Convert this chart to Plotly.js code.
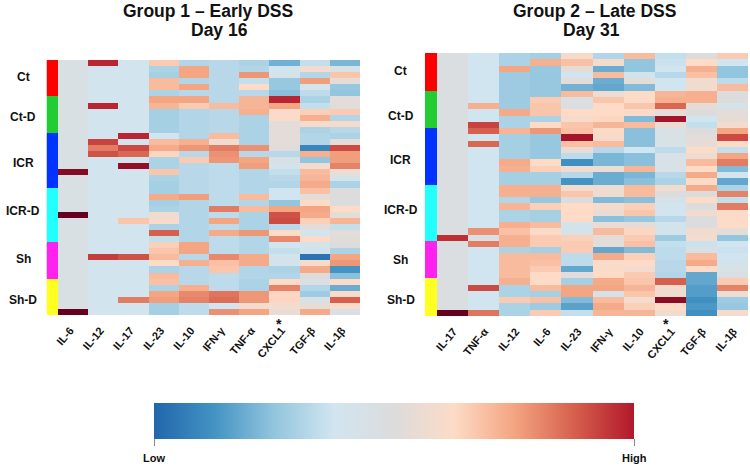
<!DOCTYPE html>
<html><head><meta charset="utf-8">
<script src="https://cdn.plot.ly/plotly-3.0.1.min.js"></script>
<style>html,body{margin:0;padding:0;background:#fff}#c{width:750px;height:469px}</style>
</head><body><div id="c"></div>
<script>
// Rows: Ct 6, Ct-D 6, ICR 9, ICR-D 9, Sh 6, Sh-D 6
const groupNames=['Ct','Ct-D','ICR','ICR-D','Sh','Sh-D'];
const groupByRow=[0,0,0,0,0,0, 1,1,1,1,1,1, 2,2,2,2,2,2,2,2,2, 3,3,3,3,3,3,3,3,3, 4,4,4,4,4,4, 5,5,5,5,5,5];
const groupColors=['#ff0000','#22cc33','#0033ff','#22ffff','#ff22ee','#ffff22'];
const labelRows1=[2.3,8.9,16.5,24.4,32.3,39];
const labelRows2=[2.3,9.6,16.6,24.5,32.5,38.9];

const columns1=['IL-6','IL-12','IL-17','IL-23','IL-10','IFN-γ','TNF-α','CXCL1','TGF-β','IL-1β'];
const columns2=['IL-17','TNF-α','IL-12','IL-6','IL-23','IFN-γ','IL-10','CXCL1','TGF-β','IL-1β'];

const g1IL6=[-.4,-.4,-.4,-.4,-.4,-.4, -.4,-.4,-.4,-.4,-.4,-.4, -.4,-.4,-.4,-.4,-.4,-.4,4.6,-.4,-.4, -.4,-.4,-.4,-.4,5,-.4,-.4,-.4,-.4, -.4,-.4,-.4,-.4,-.4,-.4, -.4,-.4,-.4,-.4,-.4,5];
const g1IL12=[3.8,-.9,-.9,-.9,-.9,-.9, -.9,3.8,-.9,-.9,-.9,-.9, -.9,3.4,2.6,3.2,-.9,-.9,-.9,-.9,-.9, -.9,-.9,-.9,-.9,-.9,-.9,-.9,-.9,-.9, -.9,-.9,3.5,-.9,-.9,-.9, -.9,-.9,-.9,-.9,-.9,-.9];
const g1IL17=[-.9,-.9,-.9,-.9,-.9,-.9, -.9,-.9,-.9,-.9,-.9,-.9, 3.8,-.9,3.3,2.9,-.9,4.4,-.9,-.9,-.9, -.9,-.9,-.9,-.9,-.9,1.4,-.9,-.9,-.9, -.9,-.9,3.2,-.9,-.9,-.9, -.9,-.9,-.9,2.6,-.9,-.9];
const g1IL23=[1.3,-1.6,-1.7,1.6,1.6,-1.6, 2,1.7,-1.7,-1.7,-1.7,-1.7, -1,1.6,1.9,1.1,-1.6,-1.6,1.4,-1.6,-1.7, -1.7,1.9,-1.7,-1.6,.6,.8,-1.6,3,-1.2, 1.2,1.4,1.6,1,-1.6,1.6, 1.5,-1.6,2,2.1,-1.7,-1.7];
const g1IL10=[-1.5,2,2,-1.5,2,-1.4, 2,1.3,-1.5,-1.5,-1.5,-1.5, -1.5,1.8,2.2,-1.4,1.3,-1.4,-1.4,-1.4,-1.4, -1.4,2.1,-1.5,-1.5,-1.5,-1.5,-1.5,-1.5,-1.5, 2,2,-1.4,1.8,-1.4,-1.4, -1.4,1.8,2.4,2.5,-1.3,-1.3];
const g1IFN=[-1.4,-1.4,-1.4,-1.4,-1.4,-1.4, -1.4,1.6,-1.4,-1.4,-1.4,-1.4, 1.6,.6,2.6,2.3,2.2,-1.3,-1.3,-1.3,-1.3, -1.3,-1.3,-1.3,2.6,-1.3,2,-1.3,1.9,-1.3, -1.3,-1.3,2.4,1.5,1.4,-1.3, -1.3,-1.3,2.7,2.8,-1,2.3];
const g1TNF=[-1.6,-1.5,2.2,-1.2,1,-1.4, 1.7,1.7,1.8,-1.6,-1.6,-1.6, -1.6,-1.6,2.3,-1.4,2,2.1,-1.5,-1.5,-1.5, -1.5,1.6,-1.5,1.6,-1.6,-1.6,-1.6,2.2,-1.5, -1.5,-1.5,1.9,1.9,-1.5,-1.5, -1.6,-1.6,2.2,2.2,.7,2];
const g1CXCL1=[-2.4,-1,-.7,-1.9,-1.9,-2.1, 3.8,2,.9,.9,.2,.2, .2,.2,.1,-1.4,-.4,-.8,-1.2,-1.4,-1.5, -1,-1,-2,2,3.2,3.3,-1.4,1,2.4, -1,-1.2,-.8,-.8,-1.6,-1.5, 1,2.5,1.1,1.1,.7,.4];
const g1TGF=[-1.2,.7,-1.5,2.1,-.9,-1.3, -1.6,-1.2,1.2,1.8,.8,-1.6, -1.5,-1.5,-3.3,1.8,-2,.7,1.6,1.7,1.9, 1.5,.2,1,2,1.9,1.2,.2,-.9,.9, -.7,-.8,-3.7,.8,1.9,0, -.3,-1.5,-1.8,-.5,.3,1.9];
const g1IL1B=[-2.3,-.5,1.4,.3,-1.9,-2, .2,.1,1.3,-1.5,.8,-1.4, -1.6,.2,3.3,2.1,2.1,2.5,.5,-.7,-1.6, 0,0,0,1,.3,1.7,-1.2,.2,.1, 0,-1.6,2,2.2,-3,-2.1, 1,-2.5,.9,3,.9,-.3];

const g2IL17=[-.2,-.2,-.2,-.2,-.2,-.2, -.2,-.2,-.2,-.2,-.2,-.2, -.2,-.2,-.2,-.2,-.2,-.2,-.2,-.2,-.2, -.2,-.2,-.2,-.2,-.2,-.2,-.2,-.2,3.7, -.2,-.2,-.2,-.2,-.2,-.2, -.2,-.2,-.2,-.2,-.2,5.2];
const g2TNF=[-1,-1,-1,-1,-1,-1, -1,-1,1.8,-1,-1,3.4, 3,-1,2.9,-1,-1,-1,-1,-1,-1, -1,-1,-1,-1,-1,-1,-1,2.3,-.3, 2.6,-1,-1,-1,-1,-1, -1,3.3,-1,-1,-1,2.7];
const g2IL12=[-1.6,-1.6,2,-1.8,-1.8,-1.8, -1.8,-1.8,-1.8,1.9,-1.6,-1.6, 1.7,-1.7,-1.7,-1.7,-1.7,1.9,1.8,-1.7,-1.7, 1.8,1.8,-1.5,1.7,-1.6,-1.6,1.8,1.5, 1.8,1.8,-1.6,1.6,1.6,1.6,1.6, 1.8,-1.6,-1.6,1.3,-1.6,-1.6];
const g2IL6=[-1.7,1.8,-1.9,-1.9,-1.9,-1.9, -1.9,1.3,1.4,1.4,-1.6,1, 2.2,-1.9,-1.9,-1.9,-1.9,1,1.2,-1.7,-1.7, 1.8,1.8,-1.9,1.2,-1.7,-1.7,1.6,.9,1.3, 1.3,-1.7,1.6,1.5,1.3,1, 1,1.6,-1.7,1.5,-1.8,1.3];
const g2IL23=[.8,1.5,.3,-1,.2,-2.4, 1.6,-.3,-.2,1,.8,1.4, 1.5,4.2,1.5,.4,-1.3,-3.1,.6,-1.4,-3, .7,1.4,0,1,1,1,-.7,-.7,1.2, 1.3,1.3,-1.3,-1.3,-2.6,.2, -1.7,2,2,-2.2,-2.7,-1.2];
const g2IFN=[-1.5,.7,-2.5,1.6,-2.5,-2.6, .5,1.4,1,1,1.1,1.7, .9,.8,1.6,-1.4,-2.3,-2.3,.5,-2.5,-2.5, .5,.6,-2.2,.8,.4,-2.1,.4,1.6,.2, .2,-2.6,1.9,.9,.9,1, 1.9,2,-.6,1.6,1.9,1.7];
const g2IL10=[1.6,-2,-2,-.8,.2,-2.2, 1,1,1.4,.9,-2.2,1.6, -2.1,-2.1,-2.1,-1,-2.1,-2.1,1.7,-2.3,-2.1, 1.6,1.6,-2.1,1.2,1.4,-1.9,.3,1.1,1.3, 1.5,-2.2,1.2,1,.7,1.3, 1.4,1.7,1.4,.7,1.2,1.7];
const g2CXCL1=[-1.2,-1.1,-1,-1.4,-1,-1, 1.7,1.8,2.9,.3,4.2,.4, -.5,-.5,-.5,-1.3,-.5,-.5,-.5,-1.4,-1.6, .6,0,-.6,-.9,-1,-1.4,-.8,-.8,-1.8, -1.2,-1.3,-1.3,-1.4,-1.4,-1.5, 3,.6,.6,4.5,1,.6];
const g2TGF=[0,1,1.8,1.5,.6,.6, 1.8,1.8,.3,0,-1,-1.2, 0,.2,.3,1,.5,1.6,1,1.9,1, 1.9,0,1,0,.6,0,0,.6,.7, -1.1,-.4,1.6,1.9,1,-2.6, -2.6,-2.8,-2.8,-3.1,-2.9,-3.1];
const g2IL1B=[1.3,-1,-2,-2,-1.3,1.6, 0,0,-.7,.2,.3,.7, 2,3.3,1,-1.2,2,2.6,-2.2,-.9,-2.6, -1.6,2.5,-1.2,2.6,.9,1,1,.3,-2, -1,-1.1,-1,-.8,-.5,-.2, 1.3,2.5,.5,-1.8,-1.9,.8];

const rampStops=[-4,-3,-2,-1,0,1,2,3,4,5];
const rampColors=['#2166ac','#4393c3','#92c5de','#d1e5f0','#dcdcdc','#fddbc7','#f4a582','#d6604d','#b2182b','#67001f'];
const legendStops=[0,.125,.25,.375,.5,.625,.75,.875,1];
const legendColors=['#2166ac','#4393c3','#92c5de','#d1e5f0','#dcdcdc','#fddbc7','#f4a582','#d6604d','#b2182b'];

const W=750,H=469;
const dx=(a,b)=>[a/W,b/W], dy=(top,bot)=>[1-bot/H,1-top/H];
const transpose=cols=>cols[0].map((_,r)=>cols.map(c=>c[r]));
const rows=groupByRow.map((_,i)=>i);
const mainScale=rampStops.map((v,i)=>[(v+4)/9,rampColors[i]]);
const stripScale=[];
groupColors.forEach((c,i)=>{stripScale.push([i/6,c]);stripScale.push([(i+1)/6,c]);});

const z1=transpose([g1IL6,g1IL12,g1IL17,g1IL23,g1IL10,g1IFN,g1TNF,g1CXCL1,g1TGF,g1IL1B]);
const z2=transpose([g2IL17,g2TNF,g2IL12,g2IL6,g2IL23,g2IFN,g2IL10,g2CXCL1,g2TGF,g2IL1B]);

const hm=(z,x,xa,ya)=>({type:'heatmap',z,x,y:rows,xaxis:xa,yaxis:ya,colorscale:mainScale,zmin:-4,zmax:5,showscale:false,xgap:0,ygap:0});
const strip=(xa,ya)=>({type:'heatmap',z:groupByRow.map(g=>[g]),y:rows,xaxis:xa,yaxis:ya,colorscale:stripScale,zmin:0,zmax:5.999,showscale:false});

const traces=[
 hm(z1,columns1,'x','y'),strip('x2','y'),
 hm(z2,columns2,'x3','y3'),strip('x4','y3'),
 {type:'scatter',mode:'markers',x:[0,1],y:[0,1],xaxis:'x5',yaxis:'y5',hoverinfo:'skip',
  marker:{size:1,opacity:0,color:[0,1],cmin:0,cmax:1,colorscale:legendStops.map((s,i)=>[s,legendColors[i]]),showscale:true,
   colorbar:{orientation:'h',lenmode:'pixels',len:480,thicknessmode:'pixels',thickness:36,x:394/W,xanchor:'center',y:1-403/H,yanchor:'top',
    xpad:0,ypad:0,outlinewidth:0,tickmode:'array',tickvals:[0,1],ticktext:[' ',' '],ticks:'outside',ticklen:7,tickwidth:1,tickcolor:'#888',
    tickfont:{family:'Liberation Sans',size:11,color:'#111'}}}}
];

const tickFont={family:'Liberation Sans',size:11,color:'#111'};
const yHidden={visible:false,fixedrange:true,range:[41.5,-0.5]};
const xCat=(cols,shift)=>({type:'category',tickangle:-50,tickfont:tickFont,ticks:'',showgrid:false,zeroline:false,showline:false,
  tickmode:'array',tickvals:cols,ticktext:cols.map(c=>'<b>'+c+'</b>'),ticklabelshift:shift,ticklabelstandoff:6});
const hiddenX={visible:false,fixedrange:true};

const ann=[];
const txt=(t,x,ypx,size)=>ann.push({text:'<b>'+t+'</b>',xref:'paper',yref:'paper',x:x/W,y:1-ypx/H,xanchor:'center',yanchor:'middle',showarrow:false,font:{family:'Liberation Sans',size,color:'#111'}});
txt('Group 1 – Early DSS',208,11,17.5);
txt('Day 16',219,30,17.5);
txt('Group 2 – Late DSS',594,11,17.5);
txt('Day 31',591,30,17.5);
txt('Low',154,458,11);
txt('High',634,458,11);
groupNames.forEach((g,i)=>{
 ann.push({text:'<b>'+g+'</b>',xref:'paper',yref:'y',x:23/W,y:labelRows1[i],xanchor:'center',yanchor:'middle',showarrow:false,font:{family:'Liberation Sans',size:12,color:'#111'}});
 ann.push({text:'<b>'+g+'</b>',xref:'paper',yref:'y3',x:401/W,y:labelRows2[i],xanchor:'center',yanchor:'middle',showarrow:false,font:{family:'Liberation Sans',size:12,color:'#111'}});
});
const star=(xa,x,shift)=>ann.push({text:'<b>*</b>',xref:xa,yref:'paper',x,xshift:shift,y:1-324/H,xanchor:'center',yanchor:'middle',showarrow:false,font:{family:'Liberation Sans',size:14,color:'#111'}});
star('x','CXCL1',-6);star('x3','CXCL1',-4);

const layout={width:W,height:H,margin:{l:0,r:0,t:0,b:0},paper_bgcolor:'#fff',plot_bgcolor:'#fff',showlegend:false,annotations:ann,
 xaxis:{...xCat(columns1,-3),domain:dx(58,360),anchor:'y'},
 yaxis:{...yHidden,domain:dy(60,315),anchor:'x'},
 xaxis2:{...hiddenX,domain:dx(46.5,58),anchor:'y'},
 xaxis3:{...xCat(columns2,1),domain:dx(437,748),anchor:'y3'},
 yaxis3:{...yHidden,domain:dy(53,316),anchor:'x3'},
 xaxis4:{...hiddenX,domain:dx(425,437),anchor:'y3'},
 xaxis5:{...hiddenX,domain:[0,.01],anchor:'y5'},
 yaxis5:{visible:false,fixedrange:true,domain:[0,.01],anchor:'x5'}
};
Plotly.newPlot('c',traces,layout,{displayModeBar:false,staticPlot:true});
</script></body></html>
